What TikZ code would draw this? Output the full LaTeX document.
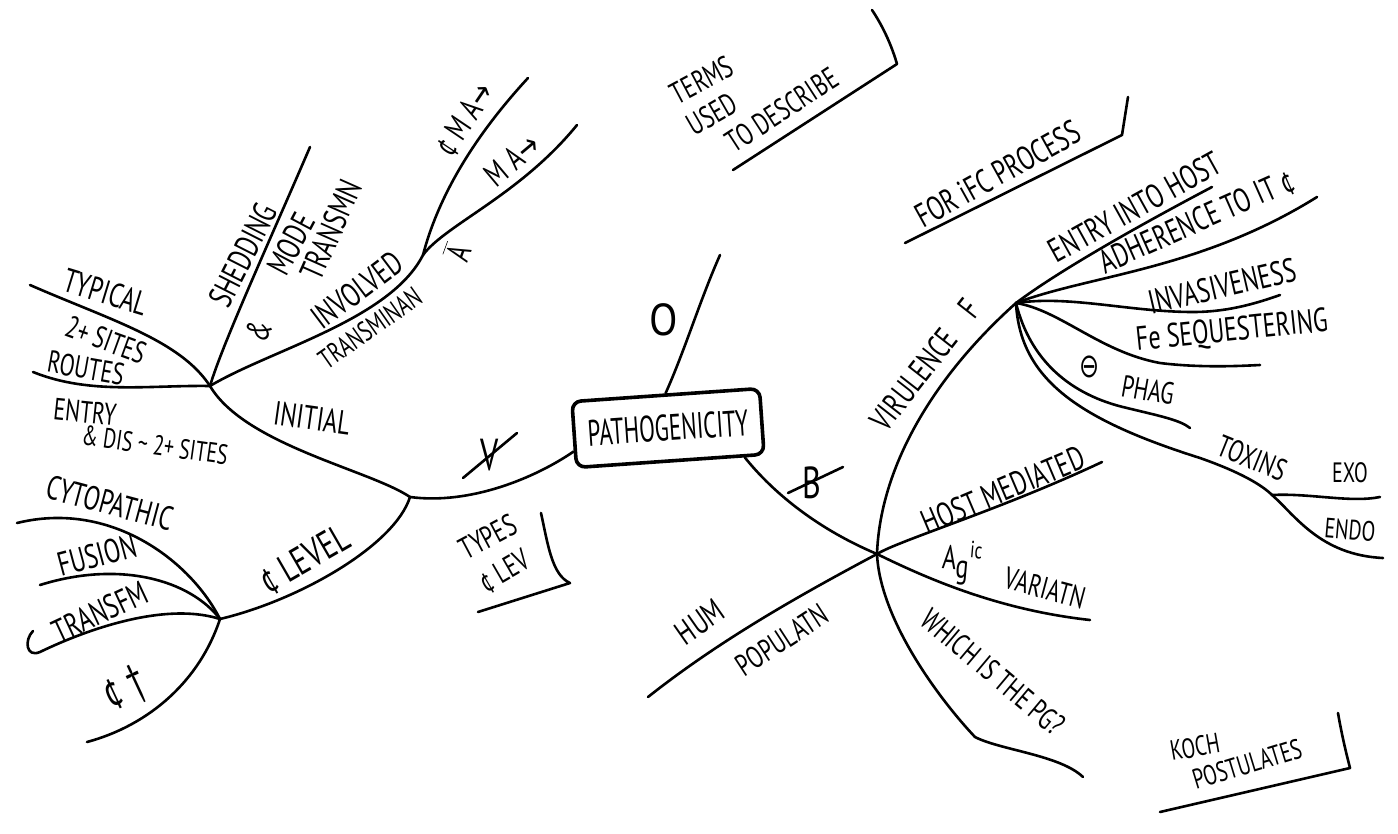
\documentclass[tikz,border=0pt]{standalone}
\usepackage{fontspec}
\usepackage{graphicx}
\setmainfont{PT Sans}
\newfontfamily\symf{DejaVu Sans}
\newcommand\hw[1]{\scalebox{1}[1.4]{#1}}
\newcommand\arr{{\symf →}}
\begin{document}
\begin{tikzpicture}[x=1pt,y=-1pt,line width=2.6pt,line cap=round,line join=round,
  lbl/.style={inner sep=0pt,font=\fontsize{22}{24}\selectfont},
  sa/.style={lbl,font=\fontsize{20}{22}\selectfont},
  sb/.style={lbl,font=\fontsize{24}{26}\selectfont},
  sc/.style={lbl,font=\fontsize{28}{30}\selectfont},
  sd/.style={lbl,font=\fontsize{32}{34}\selectfont}]
\useasboundingbox[fill=white] (0,0) rectangle (1398,833);

% central box
\node[draw,line width=3.6pt,rounded corners=9pt,minimum width=188pt,minimum height=66pt,
  rotate=4,inner sep=0pt,font=\fontsize{23}{24}\selectfont] (pat) at (668,428) {\scalebox{1}[1.6]{PATHOGENICITY}};

% hubs
\coordinate (J1) at (410,497);
\coordinate (H1) at (210,386);
\coordinate (H2) at (220,619);
\coordinate (H6) at (423,255);
\coordinate (H3) at (877,554);
\coordinate (H4) at (1016,303);
\coordinate (H5) at (1272,495);
% ends
\coordinate (etyp) at (30,285);
\coordinate (erou) at (33,372);
\coordinate (eshe) at (310,147);
\coordinate (ecma) at (528,78);
\coordinate (ema) at (577,125);
\coordinate (ecyt) at (17,523);
\coordinate (efus) at (40,585);
\coordinate (ktra) at (40,652);
\coordinate (etra) at (33,631);
\coordinate (edea) at (87,742);
\coordinate (eo) at (720,255);
\coordinate (ehos) at (1102,462);
\coordinate (eag) at (1090,620);
\coordinate (k1) at (975,737);
\coordinate (epg) at (1083,777);
\coordinate (ehum) at (648,697);
\coordinate (eent) at (1212,187);
\coordinate (eadh) at (1317,197);
\coordinate (k2) at (1193,312);
\coordinate (einv) at (1280,295);
\coordinate (k3) at (1160,363);
\coordinate (efe) at (1260,365);
\coordinate (k4) at (1127,408);
\coordinate (epha) at (1190,428);
\coordinate (k5) at (1200,458);
\coordinate (eend) at (1383,558);
\coordinate (eexo) at (1380,497);

% connectors
\draw (pat.190) .. controls (535,478) and (470,505) .. (J1);
\draw (J1) .. controls (395,545) and (300,600) .. (H2);
\draw (J1) .. controls (370,470) and (245,445) .. (H1);
\draw (H1) .. controls (180,340) and (110,320) .. (etyp);
\draw (H1) .. controls (150,385) and (90,395) .. (erou);
\draw (H1) .. controls (222,345) and (270,240) .. (eshe);
\draw (H1) .. controls (270,350) and (390,320) .. (H6);
\draw (H6) .. controls (440,190) and (480,130) .. (ecma);
\draw (H6) .. controls (445,225) and (520,195) .. (ema);
\draw (H2) .. controls (190,560) and (110,500) .. (ecyt);
\draw (H2) .. controls (190,580) and (120,560) .. (efus);
\draw (H2) .. controls (160,600) and (75,635) .. (ktra) .. controls (26,658) and (24,640) .. (etra);
\draw (H2) .. controls (200,680) and (150,725) .. (edea);
\draw (pat.north) .. controls (685,350) and (700,300) .. (eo);
\draw (pat.335) .. controls (775,495) and (820,530) .. (H3);
\draw (H3) .. controls (880,470) and (930,380) .. (H4);
\draw (H3) .. controls (900,540) and (1000,510) .. (ehos);
\draw (H3) .. controls (930,580) and (1000,610) .. (eag);
\draw (H3) .. controls (880,620) and (940,700) .. (k1) .. controls (1000,750) and (1060,755) .. (epg);
\draw (H3) .. controls (800,595) and (720,640) .. (ehum);
\draw (H4) .. controls (1060,270) and (1140,225) .. (eent);
\draw (H4) .. controls (1090,275) and (1200,270) .. (eadh);
\draw (H4) .. controls (1070,295) and (1130,312) .. (k2) .. controls (1230,312) and (1260,302) .. (einv);
\draw (H4) .. controls (1060,310) and (1100,352) .. (k3) .. controls (1200,368) and (1240,366) .. (efe);
\draw (H4) .. controls (1030,360) and (1070,395) .. (k4) .. controls (1160,416) and (1180,420) .. (epha);
\draw (H4) .. controls (1020,380) and (1080,420) .. (k5) .. controls (1240,472) and (1262,485) .. (H5);
\draw (H5) .. controls (1295,515) and (1320,555) .. (eend);
\draw (H5) .. controls (1310,493) and (1350,503) .. (eexo);

% note brackets
\coordinate (n1a) at (733,170); \coordinate (n1b) at (897,64); \coordinate (n1c) at (872,10);
\draw (n1a) -- (n1b) .. controls (890,40) and (880,22) .. (n1c);
\coordinate (n2a) at (905,243); \coordinate (n2b) at (1122,135); \coordinate (n2c) at (1128,97);
\draw (n2a) -- (n2b) -- (n2c);
\coordinate (n3a) at (541,513); \coordinate (n3b) at (570,583); \coordinate (n3c) at (478,612);
\draw (n3a) .. controls (548,545) and (552,575) .. (n3b) -- (n3c);
\coordinate (n4a) at (1160,812); \coordinate (n4b) at (1350,768); \coordinate (n4c) at (1338,713);
\draw (n4a) -- (n4b) .. controls (1344,745) and (1340,725) .. (n4c);

% left labels
\node[sb,rotate=-17] (ttyp) at (106,292) {\hw{TYPICAL}};
\node[lbl,rotate=-20] (tsit) at (106,340) {\hw{2+ SITES}};
\node[lbl,rotate=-10] (trou) at (86,368) {\hw{ROUTES}};
\node[lbl,rotate=-6] (tent) at (85,412) {\hw{ENTRY}};
\node[sa,rotate=-8] (tdis) at (155,445) {\hw{\& DIS \textasciitilde\ 2+ SITES}};
\node[sb,rotate=-8] (tini) at (312,418) {\hw{INITIAL}};
\node[sb,rotate=63] (tshe) at (243,255) {\hw{SHEDDING}};
\node[sb,rotate=62] (tamp) at (259,330) {\hw{\&}};
\node[sb,rotate=62] (tmod) at (291,244) {\hw{MODE}};
\node[sb,rotate=66] (ttrn) at (331,230) {\hw{TRANSMN}};
\node[sb,rotate=37] (tinv) at (357,290) {\hw{INVOLVED}};
\node[sa,rotate=35] (ttrm) at (370,328) {\hw{TRANSMINAN}};
\node[sb,rotate=70] (tabar) at (457,252) {\hw{$\overline{\mbox{A}}$}};
\node[sb,rotate=56] (tcma) at (465,120) {\hw{¢ M A\arr}};
\node[sb,rotate=40] (tma) at (512,160) {\hw{M A\arr}};
\node[sd] (to) at (664,320) {\scalebox{1.3}[1.4]{O}};
\node[sd] (tv) at (490,455) {\hw{V}};
\draw (463,478) -- (517,433);
\node[lbl,rotate=28] (ttyp2) at (488,537) {\hw{TYPES}};
\node[lbl,rotate=30] (tlev) at (505,572) {\hw{¢ LEV}};
\node[sb,rotate=-15] (tcyt) at (110,503) {\hw{CYTOPATHIC}};
\node[sb,rotate=15] (tfus) at (97,555) {\hw{FUSION}};
\node[sb,rotate=25] (ttra) at (100,612) {\hw{TRANSFM}};
\node[sd,rotate=25] (tdea) at (125,690) {\hw{¢ †}};
\node[sc,rotate=30] (tcl) at (305,560) {\hw{¢ LEVEL}};

% top notes
\node[lbl,rotate=28] (tter) at (702,80) {\hw{TERMS}};
\node[lbl,rotate=30] (tuse) at (712,114) {\hw{USED}};
\node[lbl,rotate=33] (tdes) at (782,110) {\hw{TO DESCRIBE}};
\node[sb,rotate=29] (tfor) at (998,174) {\hw{FOR iFC PROCESS}};

% right labels
\node[sb,rotate=52] (tvir) at (925,365) {\hw{VIRULENCE\quad F}};
\node[sd] (tb) at (812,483) {\hw{B}};
\draw (788,493) -- (843,467);
\node[sb,rotate=23] (thos) at (1003,490) {\hw{HOST MEDIATED}};
\node[sb,rotate=-5] (tag) at (962,563) {\hw{A\raisebox{-0.5ex}{g}\textsuperscript{ic}}};
\node[lbl,rotate=-15] (tvar) at (1045,588) {\hw{VARIATN}};
\node[lbl,rotate=-40] (tpg) at (993,672) {\hw{WHICH IS THE PG?}};
\node[sb,rotate=35] (thum) at (700,622) {\hw{HUM}};
\node[lbl,rotate=33] (tpop) at (782,640) {\hw{POPULATN}};
\node[sb,rotate=29] (tent2) at (1135,207) {\hw{ENTRY INTO HOST}};
\node[sb,rotate=24] (tadh) at (1197,222) {\hw{ADHERENCE TO IT ¢}};
\node[sb,rotate=13] (tinv2) at (1222,286) {\hw{INVASIVENESS}};
\node[sb,rotate=6] (tfe) at (1232,332) {\hw{Fe SEQUESTERING}};
\node[sb] (tmin) at (1090,367) {\symf\hw{⊖}};
\node[lbl,rotate=-10] (tpha) at (1148,390) {\hw{PHAG}};
\node[lbl,rotate=-22] (ttox) at (1252,458) {\hw{TOXINS}};
\node[sa] (texo) at (1350,473) {\hw{EXO}};
\node[sa,rotate=-5] (tend) at (1350,530) {\hw{ENDO}};
\node[sa,rotate=10] (tkoc) at (1195,747) {\hw{KOCH}};
\node[sa,rotate=17] (tpos) at (1247,764) {\hw{POSTULATES}};
\end{tikzpicture}
\end{document}
